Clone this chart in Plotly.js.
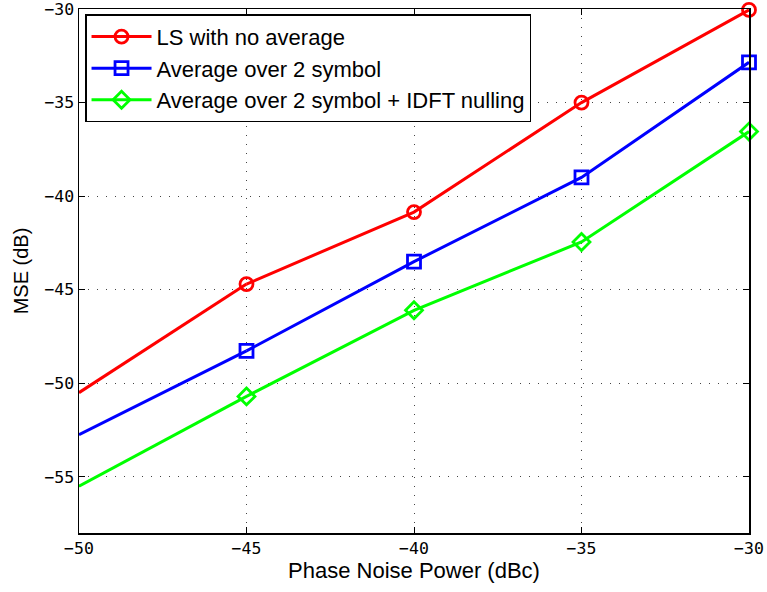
<!DOCTYPE html>
<html>
<head>
<meta charset="utf-8">
<script src="https://cdn.plot.ly/plotly-3.0.1.min.js"></script>
<style>
  html, body { margin: 0; padding: 0; background: #fff; }
  #chart { width: 767px; height: 592px; }
</style>
</head>
<body>
<div id="chart"></div>
<script>
// Phase noise power (dBc) on the x axis
const phaseNoise = [-50, -45, -40, -35, -30];

// MSE (dB) for each estimator
const mseLS = [-50.5, -44.7, -40.85, -35.0, -30.05];
const mseAvg2 = [-52.75, -48.27, -43.5, -39.0, -32.85];
const mseAvg2Nulling = [-55.5, -50.7, -46.1, -42.45, -36.55];

const seriesNames = [
  'LS with no average',
  'Average over 2 symbol',
  'Average over 2 symbol + IDFT nulling'
];

const xTicks = [-50, -45, -40, -35, -30];
const yTicks = [-55, -50, -45, -40, -35, -30];

function tickText(v) { return v < 0 ? '\u2212' + Math.abs(v) : String(v); }

// Each curve: a marked trace from the second sample on, plus a plain
// segment joining the first sample (at the left axis edge) to the second.
function series(y, name, color, symbol) {
  const marked = {
    x: phaseNoise.slice(1), y: y.slice(1), name: name, type: 'scatter', mode: 'lines+markers',
    legendgroup: name,
    line: { color: color, width: 3 },
    marker: { symbol: symbol, size: 13, color: color, line: { color: color, width: 2.8 } },
    cliponaxis: false
  };
  const lead = {
    x: phaseNoise.slice(0, 2), y: y.slice(0, 2), name: name, type: 'scatter', mode: 'lines',
    legendgroup: name, showlegend: false,
    line: { color: color, width: 3 }, hoverinfo: 'skip'
  };
  return [lead, marked];
}

const data = [].concat(
  series(mseLS, seriesNames[0], '#ff0000', 'circle-open'),
  series(mseAvg2, seriesNames[1], '#0000ff', 'square-open'),
  series(mseAvg2Nulling, seriesNames[2], '#00ff00', 'diamond-open')
);

const axisCommon = {
  showline: true, linecolor: '#000', linewidth: 1.5, mirror: 'ticks',
  ticks: 'inside', ticklen: 6, tickcolor: '#000', tickwidth: 1,
  showgrid: true, gridcolor: '#444', griddash: '1px,8px', gridwidth: 1,
  zeroline: false, ticklabeloverflow: 'allow',
  tickfont: { family: 'DejaVu Sans Mono', size: 16.5, color: '#000' }
};

const layout = {
  width: 767, height: 592,
  margin: { l: 79, r: 18, t: 9, b: 59 },
  paper_bgcolor: '#fff', plot_bgcolor: '#fff',
  xaxis: Object.assign({}, axisCommon, {
    range: [-50, -30],
    tickvals: xTicks, ticktext: xTicks.map(tickText),
    title: { text: 'Phase Noise Power (dBc)', font: { family: 'Liberation Sans', size: 22, color: '#000' }, standoff: 3 }
  }),
  yaxis: Object.assign({}, axisCommon, {
    range: [-58, -30],
    tickvals: yTicks, ticktext: yTicks.map(tickText),
    title: { text: 'MSE (dB)', font: { family: 'Liberation Sans', size: 20, color: '#000' }, standoff: 10 }
  }),
  legend: {
    x: 0.009, y: 0.99, xanchor: 'left', yanchor: 'top',
    bgcolor: '#fff', bordercolor: '#000', borderwidth: 1.5,
    font: { family: 'Liberation Sans', size: 22, color: '#000' },
    tracegroupgap: 0, itemwidth: 60
  },
  showlegend: true
};

Plotly.newPlot('chart', data, layout, { displayModeBar: false, staticPlot: true });
</script>
</body>
</html>
